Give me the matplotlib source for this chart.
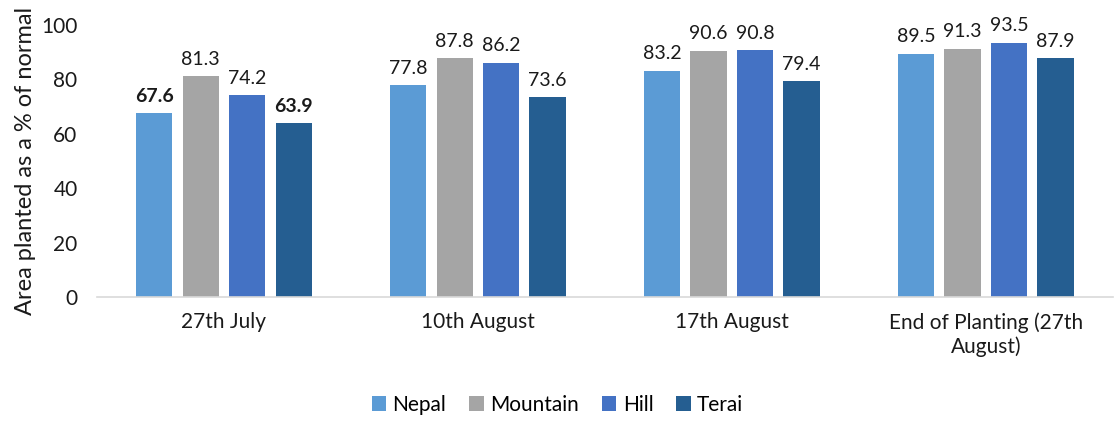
import numpy as np
import matplotlib.pyplot as plt

plt.rcParams['font.family'] = ['Lato', 'DejaVu Sans']

groups = ['27th July', '10th August', '17th August', 'End of Planting (27th\nAugust)']
series = ['Nepal', 'Mountain', 'Hill', 'Terai']
nepal = [67.6, 77.8, 83.2, 89.5]
mountain = [81.3, 87.8, 90.6, 91.3]
hill = [74.2, 86.2, 90.8, 93.5]
terai = [63.9, 73.6, 79.4, 87.9]
colors = ['#5B9BD5', '#A5A5A5', '#4472C4', '#255E91']
bold_labels = [(0, 0), (3, 0)]  # (series, group) drawn in bold

fig = plt.figure(figsize=(11.15, 4.21), dpi=100)
ax = fig.add_axes([0.087, 0.2945, 0.911, 0.646])

x = np.arange(len(groups))
step = 0.183
width = 0.143
for i, (vals, name) in enumerate(zip([nepal, mountain, hill, terai], series)):
    pos = x + (i - 1.5) * step
    ax.bar(pos, vals, width, color=colors[i], label=name)
    for j, v in enumerate(vals):
        w = 'bold' if (i, j) in bold_labels else 'normal'
        ax.annotate(f'{v:.1f}', (pos[j], v), xytext=(0, 6), textcoords='offset points',
                    ha='center', va='bottom', fontsize=14, fontweight=w, color='#1a1a1a')

ax.set_xlim(-0.5, 3.5)
ax.set_ylim(0, 100)
ax.set_yticks([0, 20, 40, 60, 80, 100])
ax.set_xticks(x)
ax.set_xticklabels(groups, fontsize=15)
ax.tick_params(axis='both', length=0, labelsize=15, colors='#1a1a1a')
ax.tick_params(axis='x', pad=11)
ax.tick_params(axis='y', pad=14)
for s in ['top', 'right', 'left']:
    ax.spines[s].set_visible(False)
ax.spines['bottom'].set_color('#D9D9D9')
ax.spines['bottom'].set_linewidth(1.2)

ax.set_ylabel('Area planted as a % of normal', fontsize=17, color='#1a1a1a', labelpad=4)

fig.legend(loc='lower center', bbox_to_anchor=(0.5, -0.03), ncol=4, frameon=False,
           fontsize=15, handlelength=0.7, handleheight=0.7, handletextpad=0.3, columnspacing=1.1)

fig.savefig('out.png', dpi=100)
